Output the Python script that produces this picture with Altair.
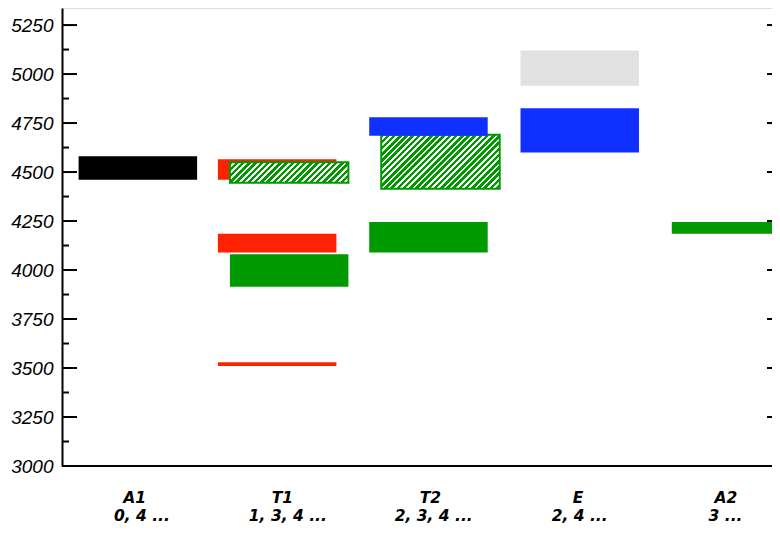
import altair as alt
import pandas as pd

# ---------------- data ----------------
categories = ["A1", "T1", "T2", "E", "A2"]
sublabels = ["0, 4 ...", "1, 3, 4 ...", "2, 3, 4 ...", "2, 4 ...", "3 ..."]

bar_category = ["A1", "T1", "T1", "T1", "T1", "T1", "T2", "T2", "T2", "E", "E", "A2"]
bar_low = [4460, 4460, 4090, 3510, 4445, 3915, 4685, 4415, 4090, 4940, 4600, 4185]
bar_high = [4580, 4565, 4185, 3530, 4550, 4080, 4780, 4690, 4245, 5120, 4825, 4245]
bar_series = ["black", "red", "red", "red", "green", "green", "blue", "green", "green", "grey", "blue", "green"]
bar_slot = [1, 0, 0, 0, 1, 1, 0, 1, 0, 0, 0, 0]
bar_hatched = [False, False, False, False, True, False, False, True, False, False, False, False]

y_major = [3000, 3250, 3500, 3750, 4000, 4250, 4500, 4750, 5000, 5250]
y_minor = [3125, 3375, 3625, 3875, 4125, 4375, 4625, 4875, 5125]

series_names = ["black", "red", "green", "blue", "grey"]
series_colors = ["#000000", "#ff2200", "#009900", "#1030ff", "#e1e1e1"]

# ---------------- layout constants ----------------
W = 710
H = 458
LEFT = 54
BOTTOM = 60
Y_MIN, Y_MAX = 3000, 5337
BAND_RANGE = [4.6, 728.3]
PAD_INNER = 0.2168
BANDWIDTH = (BAND_RANGE[1] - BAND_RANGE[0]) / (5 - PAD_INNER) * (1 - PAD_INNER)
SLOT_SHIFT = 12
GREEN = "#009900"

bars = pd.DataFrame({
    "id": list(range(len(bar_category))),
    "category": bar_category,
    "low": bar_low,
    "high": bar_high,
    "series": bar_series,
    "slot": bar_slot,
    "hatched": bar_hatched,
})
labels_df = pd.DataFrame({"category": categories, "sub": sublabels})
major_df = pd.DataFrame({"tick": y_major})
minor_df = pd.DataFrame({"tick": y_minor})

yscale = alt.Scale(domain=[Y_MIN, Y_MAX], nice=False, zero=False)
yaxis = alt.Axis(
    values=y_major, format="d", title=None, grid=False,
    domain=True, domainColor="black", domainWidth=2,
    ticks=False, tickSize=0, labelPadding=9,
    labelFont="Liberation Sans", labelFontSize=19, labelFontStyle="italic",
    labelColor="black", labelFlush=False, labelOverlap=False,
)
xbar = alt.X("category:N", scale=alt.Scale(domain=categories, range=BAND_RANGE,
                                            paddingInner=PAD_INNER, paddingOuter=0), axis=None)
color = alt.Color("series:N", scale=alt.Scale(domain=series_names, range=series_colors), legend=None)


def solid_layer(filt, slot):
    return alt.Chart(bars).transform_filter(filt).mark_bar(
        xOffset=slot * SLOT_SHIFT, clip=True
    ).encode(
        x=xbar,
        y=alt.Y("low:Q", scale=yscale, axis=yaxis),
        y2="high:Q",
        color=color,
    )


def hatch_gradient(h_px, w_px, period=6.2, frac=0.55):
    c = (w_px + h_px) / (w_px ** 2 + h_px ** 2)
    n = (w_px + h_px) / period
    stops = []
    k = 0
    while k < n:
        a = k / n
        b = min((k + frac) / n, 1.0)
        e = min((k + 1) / n, 1.0)
        stops += [
            {"offset": a, "color": GREEN},
            {"offset": b, "color": GREEN},
            {"offset": b, "color": "#ffffff"},
            {"offset": e, "color": "#ffffff"},
        ]
        k += 1
    return {"gradient": "linear", "x1": 0, "y1": 0, "x2": c * w_px, "y2": c * h_px, "stops": stops}


layers = []
layers.append(solid_layer("!datum.hatched && datum.slot == 0 && datum.series != 'blue'", 0))
layers.append(solid_layer("!datum.hatched && datum.slot == 1 && datum.series != 'blue'", 1))

for i, hat in enumerate(bar_hatched):
    if not hat:
        continue
    h_px = (bar_high[i] - bar_low[i]) * H / (Y_MAX - Y_MIN)
    grad = hatch_gradient(h_px, BANDWIDTH)
    layers.append(
        alt.Chart(bars).transform_filter(f"datum.id == {i}").mark_bar(
            xOffset=bar_slot[i] * SLOT_SHIFT, fill=grad, stroke=GREEN, strokeWidth=2, clip=True
        ).encode(
            x=xbar,
            y=alt.Y("low:Q", scale=yscale, axis=yaxis),
            y2="high:Q",
        )
    )

layers.append(solid_layer("!datum.hatched && datum.series == 'blue'", 0))

# ticks
layers.append(alt.Chart(major_df).mark_rule(color="black", strokeWidth=2).encode(
    y=alt.Y("tick:Q", scale=yscale, axis=yaxis), x=alt.value(0), x2=alt.value(15)))
layers.append(alt.Chart(minor_df).mark_rule(color="black", strokeWidth=2).encode(
    y=alt.Y("tick:Q", scale=yscale, axis=yaxis), x=alt.value(0), x2=alt.value(7)))
layers.append(alt.Chart(major_df).mark_rule(color="black", strokeWidth=2).encode(
    y=alt.Y("tick:Q", scale=yscale, axis=yaxis), x=alt.value(W - 5), x2=alt.value(W)))
# bottom axis line
layers.append(alt.Chart(major_df).mark_rule(color="black", strokeWidth=2).encode(
    y=alt.value(H), x=alt.value(0), x2=alt.value(W)))

# category labels (two text lines, each on its own point scale)
text_style = dict(font="DejaVu Sans", fontSize=15.5, fontWeight="bold", fontStyle="italic",
                  color="black", align="center", baseline="alphabetic")
xlab1 = alt.X("category:N", scale=alt.Scale(type="point", domain=categories,
                                             range=[72.6, 664.0], padding=0), axis=None)
xlab2 = alt.X("category:N", scale=alt.Scale(type="point", domain=categories,
                                             range=[79.9, 663.5], padding=0), axis=None)
layers.append(alt.Chart(labels_df).mark_text(**text_style).encode(
    x=xlab1, y=alt.value(H + 37), text="category:N"))
layers.append(alt.Chart(labels_df).mark_text(**text_style).encode(
    x=xlab2, y=alt.value(H + 55), text="sub:N"))

chart = alt.layer(*layers).resolve_scale(x="independent").properties(
    width=W, height=H,
    autosize=alt.AutoSizeParams(type="none"),
    padding={"left": LEFT, "top": 0, "right": 0, "bottom": BOTTOM},
).configure_view(strokeWidth=0, stroke="transparent").configure(background="white")

chart.save("out.html", embed_options={"renderer": "svg", "actions": False})
